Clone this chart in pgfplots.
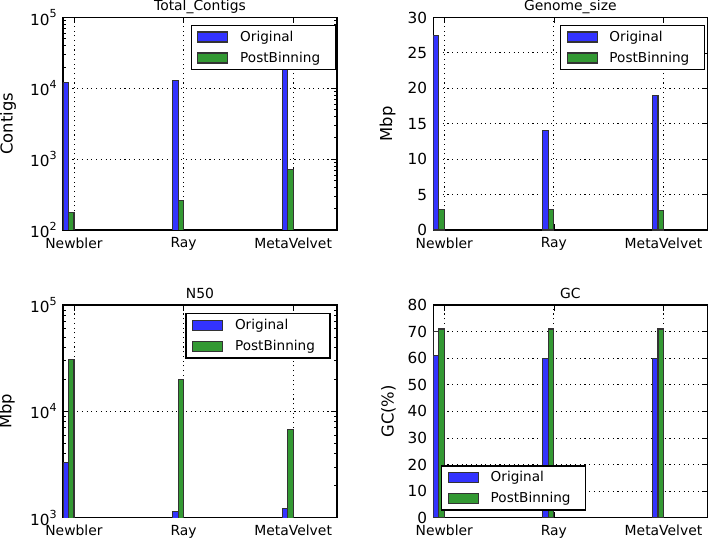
\documentclass[border=0pt]{standalone}
\usepackage{fontspec}
\setmainfont{DejaVu Sans}
\usepackage{pgfplots}
\pgfplotsset{compat=1.18}
\definecolor{mblue}{RGB}{51,51,255}
\definecolor{mgreen}{RGB}{51,153,51}
\definecolor{medge}{RGB}{51,51,51}
\newcommand\pw[1]{10\raisebox{5.2pt}{\fontsize{8}{8}\selectfont #1}}
\pgfplotsset{
  mpl/.style={
    scale only axis, width=197.3pt, height=153pt,
    xmin=-0.1, xmax=2.4, xtick={0,1,2}, xticklabels={Newbler,Ray,MetaVelvet},
    enlargelimits=false,
    axis line style={line width=1pt},
    tick style={black, line width=0.5pt},
    major tick length=4pt, minor tick length=2pt,
    grid=major,
    major grid style={black, line width=0.6pt, dash pattern=on 0.8pt off 2.6pt},
    xticklabel style={font=\fontsize{10}{12}\selectfont, yshift=-2pt},
    yticklabel style={font=\fontsize{11}{13}\selectfont, xshift=-1pt},
    /pgf/number format/assume math mode=true,
    ylabel style={font=\fontsize{11.8}{14}\selectfont, anchor=center},
    title style={font=\fontsize{10}{12}\selectfont, at={(0.5,1)}, anchor=base, yshift=-1.3pt},
    legend style={draw=black, line width=1pt, fill=white, inner xsep=0pt, inner ysep=0.8pt,
      row sep=0pt, font=\fontsize{9.8}{11.5}\selectfont,
      nodes={inner sep=0pt, text width=68.4pt, align=left}},
    legend cell align=left,
  },
  bl/.style={legend image code/.code={%
      \path[draw=none, fill=none] (0pt,-7.55pt) rectangle (35.3pt,7.55pt);
      \draw[##1, line width=0.8pt] (4.8pt,-3.6pt) rectangle (26.4pt,3.6pt);}},
  ob/.style={ybar, bar width=0.05, bar shift=-0.075, fill=mblue, draw=medge, line width=0.8pt, bl},
  pb/.style={ybar, bar width=0.05, bar shift=-0.025, fill=mgreen, draw=medge, line width=0.8pt, bl},
}
\begin{document}
\begin{tikzpicture}
\useasboundingbox (0,0) rectangle (510.48pt,-387.36pt);

% Total_Contigs
\begin{axis}[mpl, at={(45.36pt,-165.6pt)}, anchor=south west,
  title={Total\_Contigs}, ylabel={Contigs},
  ylabel style={at={(axis description cs:-0.2,0.5)}},
  ymode=log, ymin=100, ymax=100000,
  ytick={100,1000,10000,100000}, yticklabels={\pw{2},\pw{3},\pw{4},\pw{5}},
  minor ytick={200,300,400,500,600,700,800,900,2000,3000,4000,5000,6000,7000,8000,9000,20000,30000,40000,50000,60000,70000,80000,90000},
  legend style={at={(0.996,0.966)}, anchor=north east}]
\addplot[ob] coordinates {(0,12000) (1,13000) (2,25000)};
\addlegendentry{Original}
\addplot[pb] coordinates {(0,178) (1,258) (2,708)};
\addlegendentry{PostBinning}
\end{axis}

% Genome_size
\begin{axis}[mpl, at={(311.98pt,-165.6pt)}, anchor=south west,
  title={Genome\_size}, ylabel={Mbp},
  ylabel style={at={(axis description cs:-0.167,0.5)}},
  ymin=0, ymax=30, ytick={0,5,10,15,20,25,30},
  legend style={at={(0.992,0.966)}, anchor=north east}]
\addplot[ob] coordinates {(0,27.5) (1,14) (2,19)};
\addlegendentry{Original}
\addplot[pb] coordinates {(0,2.9) (1,2.9) (2,2.8)};
\addlegendentry{PostBinning}
\end{axis}

% N50
\begin{axis}[mpl, at={(45.36pt,-372.67pt)}, anchor=south west,
  title={N50}, ylabel={Mbp},
  ylabel style={at={(axis description cs:-0.205,0.5)}},
  ymode=log, ymin=1000, ymax=100000,
  ytick={1000,10000,100000}, yticklabels={\pw{3},\pw{4},\pw{5}},
  minor ytick={2000,3000,4000,5000,6000,7000,8000,9000,20000,30000,40000,50000,60000,70000,80000,90000},
  legend style={at={(0.977,0.963)}, anchor=north east}]
\addplot[ob] coordinates {(0,3280) (1,1146) (2,1214)};
\addlegendentry{Original}
\addplot[pb] coordinates {(0,31000) (1,20100) (2,6780)};
\addlegendentry{PostBinning}
\end{axis}

% GC
\begin{axis}[mpl, at={(311.98pt,-372.67pt)}, anchor=south west,
  title={GC}, ylabel={GC(\%)},
  ylabel style={at={(axis description cs:-0.164,0.5)}},
  ymin=0, ymax=80, ytick={0,10,20,30,40,50,60,70,80},
  legend style={at={(0.028,0.032)}, anchor=south west}]
\addplot[ybar, bar width=0.05, bar shift=-0.075, fill=none, draw=medge, line width=0.8pt, forget plot] coordinates {(0,70)};
\addplot[ob] coordinates {(0,61) (1,60) (2,60)};
\addlegendentry{Original}
\addplot[pb] coordinates {(0,71) (1,71) (2,71)};
\addlegendentry{PostBinning}
\end{axis}
\end{tikzpicture}
\end{document}
